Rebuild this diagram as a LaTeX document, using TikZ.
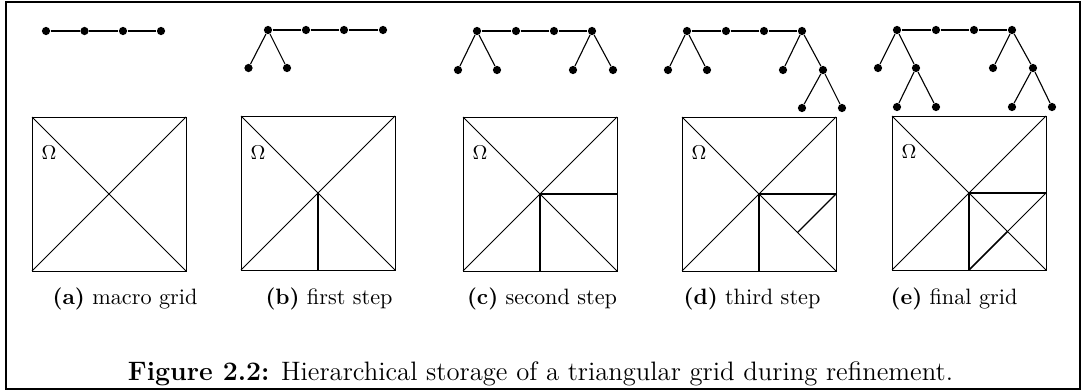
\documentclass[tikz,border=0pt]{standalone}
\begin{document}
\begin{tikzpicture}[x=0.45pt,y=-0.45pt,
  dot/.style={circle,fill=black,inner sep=0pt,minimum size=3.7pt},
  tedge/.style={line width=0.5pt},
  gridline/.style={line width=0.4pt},
  refine/.style={line width=0.55pt},
  omega/.style={font=\fontsize{9.5}{10}\selectfont},
  subcap/.style={anchor=base,font=\fontsize{10}{12}\selectfont},
  figcap/.style={anchor=base,font=\fontsize{12}{14}\selectfont}]
\useasboundingbox (0,0) rectangle (1083,392);
\draw[line width=0.9pt] (6,2) rectangle (1080,389);

% ---------- trees ----------
% (a)
\node[dot] (a1) at (46,31) {};
\node[dot] (a2) at (84.5,31) {};
\node[dot] (a3) at (123,31) {};
\node[dot] (a4) at (161,31) {};
\draw[tedge] (a1) -- (a2) -- (a3) -- (a4);
% (b)
\node[dot] (b1) at (268,30) {};
\node[dot] (b2) at (306,30) {};
\node[dot] (b3) at (344,30) {};
\node[dot] (b4) at (383,30) {};
\node[dot] (b5) at (248.5,68) {};
\node[dot] (b6) at (287,68) {};
\draw[tedge] (b1) -- (b2) -- (b3) -- (b4);
\draw[tedge] (b5) -- (b1) -- (b6);
% (c)
\node[dot] (c1) at (477,31) {};
\node[dot] (c2) at (516,31) {};
\node[dot] (c3) at (554,31) {};
\node[dot] (c4) at (592,31) {};
\node[dot] (c5) at (458,70) {};
\node[dot] (c6) at (497,70) {};
\node[dot] (c7) at (573,70) {};
\node[dot] (c8) at (613,70) {};
\draw[tedge] (c1) -- (c2) -- (c3) -- (c4);
\draw[tedge] (c5) -- (c1) -- (c6);
\draw[tedge] (c7) -- (c4) -- (c8);
% (d)
\node[dot] (d1) at (687,31) {};
\node[dot] (d2) at (726,31) {};
\node[dot] (d3) at (764,31) {};
\node[dot] (d4) at (802,31) {};
\node[dot] (d5) at (668,70) {};
\node[dot] (d6) at (707,70) {};
\node[dot] (d7) at (783,70) {};
\node[dot] (d8) at (823,70) {};
\node[dot] (d9) at (802,108) {};
\node[dot] (d10) at (842,108) {};
\draw[tedge] (d1) -- (d2) -- (d3) -- (d4);
\draw[tedge] (d5) -- (d1) -- (d6);
\draw[tedge] (d7) -- (d4) -- (d8);
\draw[tedge] (d9) -- (d8) -- (d10);
% (e)
\node[dot] (e1) at (897,30) {};
\node[dot] (e2) at (936,30) {};
\node[dot] (e3) at (974,30) {};
\node[dot] (e4) at (1012,30) {};
\node[dot] (e5) at (878,68) {};
\node[dot] (e6) at (916,68) {};
\node[dot] (e7) at (993,68) {};
\node[dot] (e8) at (1033,68) {};
\node[dot] (e9) at (897,107) {};
\node[dot] (e10) at (936,107) {};
\node[dot] (e11) at (1012,107) {};
\node[dot] (e12) at (1052,107) {};
\draw[tedge] (e1) -- (e2) -- (e3) -- (e4);
\draw[tedge] (e5) -- (e1) -- (e6);
\draw[tedge] (e9) -- (e6) -- (e10);
\draw[tedge] (e7) -- (e4) -- (e8);
\draw[tedge] (e11) -- (e8) -- (e12);

% ---------- grids ----------
% (a)
\begin{scope}[shift={(32,117)}]
  \draw[gridline] (0,0) rectangle (154,154);
  \draw[gridline] (0,0) -- (154,154) (154,0) -- (0,154);
  \node[omega] at (17,36) {$\Omega$};
\end{scope}
% (b)
\begin{scope}[shift={(241,116)}]
  \draw[gridline] (0,0) rectangle (154,154);
  \draw[gridline] (0,0) -- (154,154) (154,0) -- (0,154);
  \draw[refine] (77,77) -- (77,154);
  \node[omega] at (17,37) {$\Omega$};
\end{scope}
% (c)
\begin{scope}[shift={(463,117)}]
  \draw[gridline] (0,0) rectangle (154,154);
  \draw[gridline] (0,0) -- (154,154) (154,0) -- (0,154);
  \draw[refine] (77,154) -- (77,77) -- (154,77);
  \node[omega] at (17,36) {$\Omega$};
\end{scope}
% (d)
\begin{scope}[shift={(682,117)}]
  \draw[gridline] (0,0) rectangle (154,154);
  \draw[gridline] (0,0) -- (154,154) (154,0) -- (0,154);
  \draw[refine] (77,154) -- (77,77) -- (154,77);
  \draw[refine] (154,77) -- (115.5,115.5);
  \node[omega] at (17,36) {$\Omega$};
\end{scope}
% (e)
\begin{scope}[shift={(892,116)}]
  \draw[gridline] (0,0) rectangle (154,154);
  \draw[gridline] (0,0) -- (154,154) (154,0) -- (0,154);
  \draw[refine] (77,154) -- (77,77) -- (154,77);
  \draw[gridline] (154,77) -- (115.5,115.5);
  \draw[line width=0.7pt] (115.5,115.5) -- (77,154);
  \node[omega] at (17,36) {$\Omega$};
\end{scope}

% ---------- captions ----------
\node[subcap] (ca) at (125,304) {\textbf{(a)} macro grid};
\node[subcap] (cb) at (329,304) {\textbf{(b)} first step};
\node[subcap] (cc) at (542,304) {\textbf{(c)} second step};
\node[subcap] (cd) at (752,304) {\textbf{(d)} third step};
\node[subcap] (ce) at (954,304) {\textbf{(e)} final grid};
\node[figcap] (fig) at (540.5,380) {\textbf{Figure 2.2:} Hierarchical storage of a triangular grid during refinement.};
\end{tikzpicture}
\end{document}
